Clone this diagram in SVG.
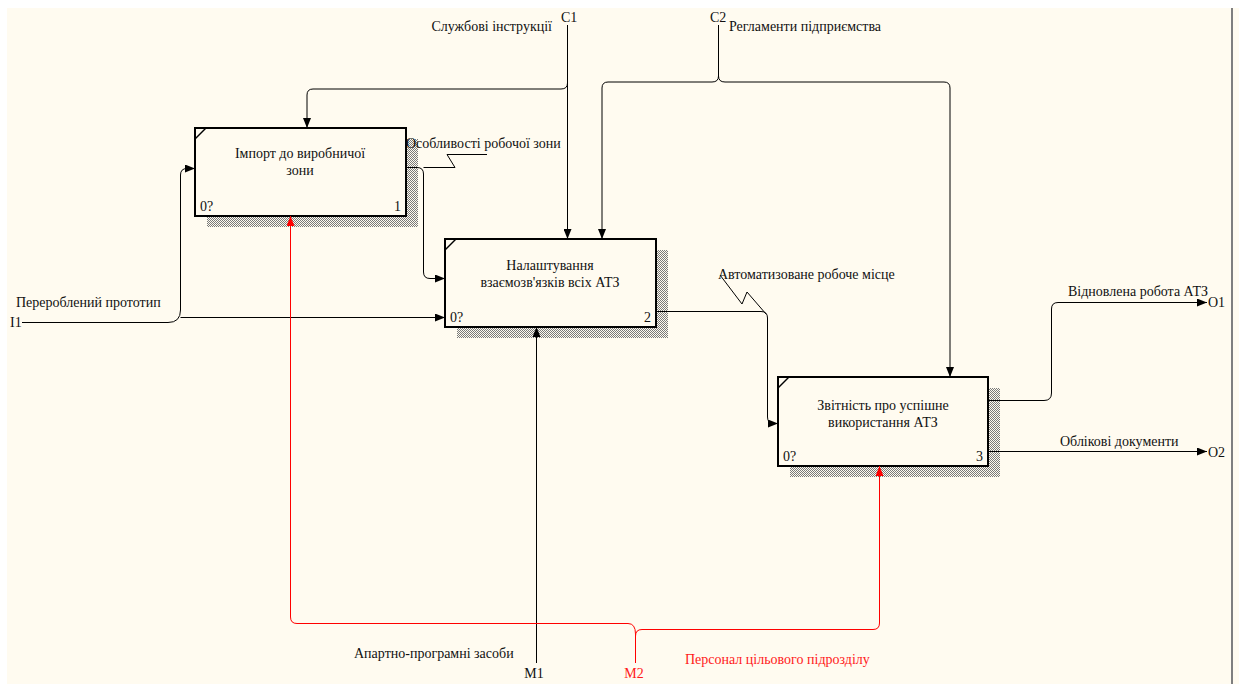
<svg xmlns="http://www.w3.org/2000/svg" width="1239" height="684" viewBox="0 0 1239 684">
  <defs>
    <pattern id="hatch" width="2" height="2" patternUnits="userSpaceOnUse">
      <rect x="0" y="0" width="2" height="2" fill="#fffbf0"/>
      <rect x="0" y="0" width="1" height="1" fill="#7a7a7a"/>
      <rect x="1" y="1" width="1" height="1" fill="#7a7a7a"/>
    </pattern>
    <marker id="arr" viewBox="0 0 10 8" refX="10" refY="4" markerWidth="10" markerHeight="8" markerUnits="userSpaceOnUse" orient="auto">
      <path d="M0,0 L10,4 L0,8 Z" fill="#000"/>
    </marker>
    <marker id="arrRed" viewBox="0 0 10 8" refX="10" refY="4" markerWidth="10" markerHeight="8" markerUnits="userSpaceOnUse" orient="auto">
      <path d="M0,0 L10,4 L0,8 Z" fill="#ff0000"/>
    </marker>
  </defs>
  <style>
    text { font-family: "Liberation Serif", "Times New Roman", serif; font-size: 14px; fill: #111; }
    .red { fill: #ff1a1a; }
    .mid { text-anchor: middle; }
    .end { text-anchor: end; }
    .box { fill: #fffbf0; stroke: #000; stroke-width: 2; }
    .shadow { fill: url(#hatch); }
    .tick { stroke: #000; stroke-width: 1.5; fill: none; }
    .wire { fill: none; stroke: #000; stroke-width: 1; }
    .wire-red { fill: none; stroke: #ff0000; stroke-width: 1; }
    .squig { fill: none; stroke: #000; stroke-width: 1; }
  </style>

  <!-- canvas -->
  <rect x="0" y="0" width="1239" height="684" fill="#ffffff"/>
  <rect x="7" y="8" width="1232" height="676" fill="#fffbf0"/>
  <rect x="1231" y="8" width="2" height="676" fill="#7f7f7f"/>

  <!-- activity boxes -->
  <g id="node-1">
    <rect class="shadow" x="207" y="139" width="211" height="88"/>
    <rect class="box" x="195" y="128" width="211" height="88"/>
    <path class="tick" d="M195,139 L206,128"/>
    <text class="mid" x="300" y="158">Імпорт до виробничої</text>
    <text class="mid" x="300" y="175">зони</text>
    <text x="200" y="211">0?</text>
    <text class="end" x="401" y="211">1</text>
  </g>

  <g id="node-2">
    <rect class="shadow" x="457" y="250" width="211" height="88"/>
    <rect class="box" x="445" y="239" width="211" height="88"/>
    <path class="tick" d="M445,250 L456,239"/>
    <text class="mid" x="550" y="270">Налаштування</text>
    <text class="mid" x="550" y="287">взаємозв'язків всіх АТЗ</text>
    <text x="450" y="322">0?</text>
    <text class="end" x="651" y="322">2</text>
  </g>

  <g id="node-3">
    <rect class="shadow" x="790" y="388" width="210" height="89"/>
    <rect class="box" x="778" y="377" width="210" height="89"/>
    <path class="tick" d="M778,388 L789,377"/>
    <text class="mid" x="883" y="410">Звітність про успішне</text>
    <text class="mid" x="883" y="427">використання АТЗ</text>
    <text x="783" y="461">0?</text>
    <text class="end" x="983" y="461">3</text>
  </g>

  <!-- arrows -->
  <g id="connectors">
    <!-- C1 -->
    <path class="wire" d="M567.5,25 V239" marker-end="url(#arr)"/>
    <path class="wire" d="M567.5,83 Q567.5,89 561,89 H313 Q307,89 307,95 V128" marker-end="url(#arr)"/>
    <!-- C2 -->
    <path class="wire" d="M718.5,25 V76 Q718.5,82 712,82 H608 Q602,82 602,88 V239" marker-end="url(#arr)"/>
    <path class="wire" d="M718.5,76 Q718.5,82 725,82 H944 Q950,82 950,88 V377" marker-end="url(#arr)"/>
    <!-- I1 -->
    <path class="wire" d="M22,322.5 H168 Q180.5,322.5 180.5,310 V175 Q180.5,168.5 187,168.5 H195" marker-end="url(#arr)"/>
    <path class="wire" d="M180.5,317.5 H445" marker-end="url(#arr)"/>
    <!-- 1 -> 2 -->
    <path class="wire" d="M406,167.5 H417 Q423.5,167.5 423.5,174 V272 Q423.5,278.5 430,278.5 H445" marker-end="url(#arr)"/>
    <!-- 2 -> 3 -->
    <path class="wire" d="M656,311.5 H761 Q767.5,311.5 767.5,318 V417 Q767.5,423.5 774,423.5 H778" marker-end="url(#arr)"/>
    <!-- O1 -->
    <path class="wire" d="M988,400.5 H1044 Q1051.5,400.5 1051.5,393 V309 Q1051.5,302.5 1058,302.5 H1207" marker-end="url(#arr)"/>
    <!-- O2 -->
    <path class="wire" d="M988,451.5 H1207" marker-end="url(#arr)"/>
    <!-- M1 -->
    <path class="wire" d="M536.5,663 V327" marker-end="url(#arr)"/>
    <!-- M2 -->
    <path class="wire-red" d="M635.5,663 V634 Q635.5,623.5 628,623.5 H297 Q290.5,623.5 290.5,617 V216" marker-end="url(#arrRed)"/>
    <path class="wire-red" d="M635.5,636 Q635.5,629.5 642,629.5 H873 Q879.5,629.5 879.5,623 V466" marker-end="url(#arrRed)"/>
    <!-- label squiggles -->
    <polyline class="squig" points="423.5,167.5 455,167.5 447,154.5 487,154.5"/>
    <polyline class="squig" points="720,275 742,304 747,292 766,314"/>
  </g>

  <!-- arrow labels -->
  <g id="labels">
    <text x="561" y="22">C1</text>
    <text class="end" x="552" y="31">Службові інструкції</text>
    <text x="710" y="22">C2</text>
    <text x="729" y="31">Регламенти підприємства</text>
    <text x="406" y="148">Особливості робочої зони</text>
    <text x="718" y="279">Автоматизоване робоче місце</text>
    <text x="16" y="307">Перероблений прототип</text>
    <text x="10" y="327">I1</text>
    <text x="1068" y="296">Відновлена робота АТЗ</text>
    <text x="1208" y="307">O1</text>
    <text x="1060" y="446">Облікові документи</text>
    <text x="1208" y="457">O2</text>
    <text x="354" y="658">Апартно-програмні засоби</text>
    <text class="mid" x="534" y="678">M1</text>
    <text class="mid red" x="634" y="678">M2</text>
    <text class="red" x="685" y="664">Персонал цільового підрозділу</text>
  </g>
</svg>
